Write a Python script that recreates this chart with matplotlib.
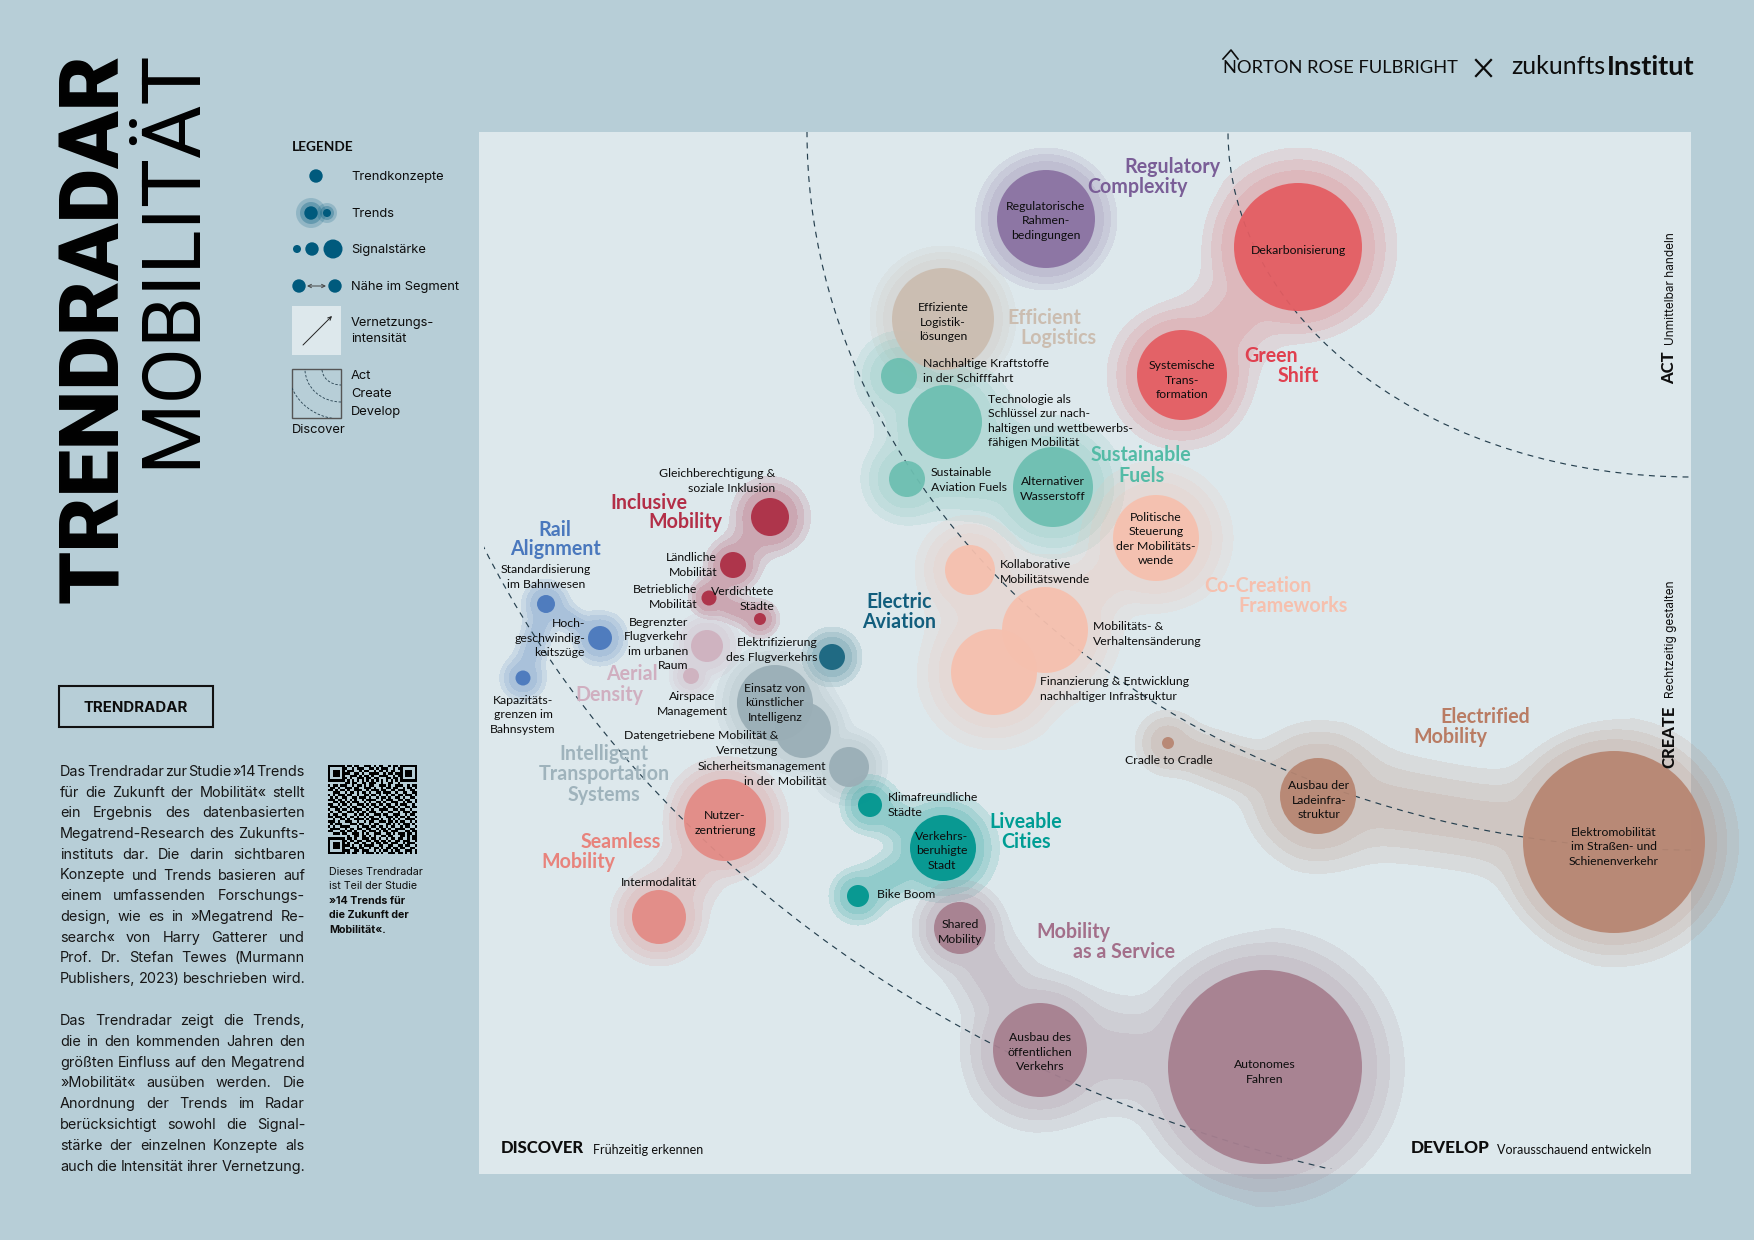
import numpy as np
import matplotlib
matplotlib.use("Agg")
import matplotlib.pyplot as plt
from matplotlib.patches import Circle, Ellipse, Rectangle, FancyArrowPatch

BG = "#b7ced7"
PANEL = "#dde8ec"
DARK = "#0d0d0d"
LEGEND_BLUE = "#005a7d"
LABEL_FONT = "Lato"
BODY_FONT = "Inter"

# trend colours
trend_names = ["Regulatory", "Green", "Efficient", "Fuels", "CoCreation", "Inclusive", "Rail",
               "Aerial", "Aviation", "Intelligent", "Seamless", "Liveable", "MaaS", "Electrified"]
trend_colors = ["#8a72a2", "#e45d62", "#cbbdb0", "#6dbfb1", "#f6c0ae", "#ad2e45", "#4a78bd",
                "#cfb1bf", "#19657f", "#9aaeb6", "#e38b85", "#00968f", "#a67f8f", "#b78672"]

concept_names = ["Regulatorische", "Dekarbonisierung", "Systemische", "Effiziente", "Kraftstoffe",
                 "Technologie", "Aviation Fuels", "Wasserstoff", "Politische", "Kollaborative",
                 "Verhalten", "Finanzierung", "Gleichberechtigung", "Laendliche", "Betriebliche",
                 "Verdichtete", "Standardisierung", "Hochgeschw", "Kapazitaet", "Begrenzter", "Airspace",
                 "Elektrifizierung", "Einsatz KI", "Datengetrieben", "Sicherheit", "Nutzer", "Intermodal",
                 "Klima", "Verkehrsberuhigt", "Bike Boom", "Shared", "Ausbau OEV", "Autonomes",
                 "Cradle", "Ladeinfra", "Elektromobilitaet"]
concept_trend = [0, 1, 1, 2, 3, 3, 3, 3, 4, 4, 4, 4, 5, 5, 5, 5, 6, 6, 6, 7, 7, 8, 9, 9, 9, 10, 10,
                 11, 11, 11, 12, 12, 12, 13, 13, 13]
concept_x = [1046, 1298, 1182, 943, 899, 945, 907, 1053, 1156, 970, 1045, 994, 770, 733, 709, 760,
             546, 600, 523, 707, 691, 832, 775, 803, 849, 725, 659, 870, 943, 858, 960, 1040, 1265,
             1168, 1318, 1614]
concept_y = [219, 247, 375, 319, 376, 422, 479, 487, 538, 570, 630, 672, 517, 565, 598, 619, 604,
             638, 678, 646, 676, 657, 703, 730, 767, 820, 917, 805, 848, 896, 928, 1050, 1067, 743,
             796, 842]
concept_r = [49, 64, 45, 51, 18, 37, 18, 40, 43, 25, 43, 43, 19, 13, 7.5, 6, 9, 12, 7.5, 16, 8, 13,
             38, 28, 20, 41, 27, 12, 33, 11, 26, 47, 97, 6, 38, 91]
concept_halo = [22, 31, 27, 22, 25, 24, 25, 26, 31, 26, 27, 29, 20, 14, 12, 13, 14, 15, 15, 17, 13,
                17, 19, 17, 17, 20, 20, 17, 19, 17, 20, 29, 37, 26, 34, 29]

# how strongly two concepts are connected (half width of the bridge between them)
link_from = ["Dekarbonisierung", "Kraftstoffe", "Technologie", "Technologie", "Aviation Fuels", "Kollaborative",
             "Verhalten", "Verhalten", "Finanzierung", "Gleichberechtigung", "Laendliche", "Betriebliche",
             "Standardisierung", "Standardisierung", "Begrenzter", "Einsatz KI", "Datengetrieben", "Nutzer",
             "Klima", "Verkehrsberuhigt", "Shared", "Ausbau OEV", "Cradle", "Ladeinfra"]
link_to = ["Systemische", "Technologie", "Aviation Fuels", "Wasserstoff", "Wasserstoff", "Verhalten",
           "Finanzierung", "Politische", "Kollaborative", "Laendliche", "Betriebliche", "Verdichtete",
           "Hochgeschw", "Kapazitaet", "Airspace", "Datengetrieben", "Sicherheit", "Intermodal",
           "Verkehrsberuhigt", "Bike Boom", "Ausbau OEV", "Autonomes", "Ladeinfra", "Elektromobilitaet"]
link_reach = [50, 44, 44, 50, 38, 40, 50, 40, 50, 24, 20, 16, 14, 16, 16, 40, 28, 36, 24, 26, 42, 58, 30, 52]

para_one = ["Das Trendradar zur Studie »14 Trends", "für die Zukunft der Mobilität« stellt",
            "ein Ergebnis des datenbasierten", "Megatrend-Research des Zukunfts-",
            "instituts dar. Die darin sichtbaren", "Konzepte und Trends basieren auf",
            "einem umfassenden Forschungs-", "design, wie es in »Megatrend Re-",
            "search« von Harry Gatterer und", "Prof. Dr. Stefan Tewes (Murmann",
            "Publishers, 2023) beschrieben wird."]
para_two = ["Das Trendradar zeigt die Trends,", "die in den kommenden Jahren den",
            "größten Einfluss auf den Megatrend", "»Mobilität« ausüben werden. Die",
            "Anordnung der Trends im Radar", "berücksichtigt sowohl die Signal-",
            "stärke der einzelnen Konzepte als", "auch die Intensität ihrer Vernetzung."]

qr_rows = [
    "1111111 01101100111010110010110 1111111",
    "1000001 10010111001101011100101 1000001",
    "1011101 01110010110010110101100 1011101",
    "1011101 11001101001111001011011 1011101",
    "1011101 00111010110100111100101 1011101",
    "1000001 10100111011011000110110 1000001",
    "1111111 01010101010101010101010 1111111",
    "0000000 11011001101110010011001 0000000",
    "1011011100 1011010110 0111010011 1001011",
    "0110100111 0110011101 0010110110 0101101",
    "1101011010 0111001011 1011001101 1100110",
    "0011100101 1010110100 1101110010 0110011",
    "1010111011 0010011011 0100101101 1011101",
    "0101001100 1101110100 1011010011 0100110",
    "1110110101 0100101111 0010111001 1011001",
    "0011011010 1110010100 1101001110 0101101",
    "1100101101 0011101011 0110110010 1110010",
    "0111010010 1100110101 1001011101 0011011",
    "1001101101 0111001010 0111100110 1100100",
    "0100110011 1010110111 0010011001 0111011",
    "1011001100 0101101001 1101100111 0010110",
    "1101110101 1010010110 0100111010 1101001",
    "0010011010 0111101011 1010010101 0011110",
    "1110100111 0010010110 0111011010 1100101",
    "0101110001 1101100101 1000110101 0111010",
    "1010011110 0010111011 0110101100 1011001",
    "0111100101 1011001100 1011010011 1100110",
    "1100011011 0100110111 0101101110 0011011",
    "0011101100 1110101001 1100110101 1101101",
    "0000000010 0110110101 0011011000 1101011",
    "1111111 0110100111 0110100101 1011001011",
    "1000001 1011011001 1011011010 0110111001",
    "1011101 0100110110 0101101101 1100101110",
    "1011101 1101001011 1100110011 0011011001",
    "1011101 0011101100 1011010110 1101100110",
    "1000001 1100110111 0010101101 0110011101",
    "1111111 0101100101 1101010011 1011010101",
]

W, H = 1754, 1240
fig = plt.figure(figsize=(W / 100, H / 100), dpi=100, facecolor=BG)
ax = fig.add_axes([0, 0, 1, 1])
ax.set_axis_off()
ax.set_xlim(0, W)
ax.set_ylim(H, 0)
ax.autoscale(False)


# text in reference pixels, most of the radar labels go through this
def lab(x, y, s, ha="center", size=8.8, color=DARK, font=LABEL_FONT, weight="normal", **kw):
    kw.setdefault("linespacing", 1.4)
    return ax.text(x, y + 1, s, ha=ha, va="center", fontsize=size, color=color, family=font,
                   weight=weight, multialignment=ha, zorder=8, **kw)


def head(x, y, s, trend):
    lab(x, y + 1, s, size=14.1, color=heading_colors[trend_names.index(trend)], weight="bold")


# stretches the gaps between words so the line fills x0..x1
def justified(x0, x1, y, line, size=10.4):
    words = line.split(" ")
    items = [lab(0, y, w, ha="left", size=size, font=BODY_FONT, color="#161616") for w in words]
    rend = fig.canvas.get_renderer()
    widths = [t.get_window_extent(rend).width for t in items]
    gap = (x1 - x0 - sum(widths)) / max(len(words) - 1, 1)
    x = x0
    for t, w in zip(items, widths):
        t.set_x(x)
        x += w + gap


# smooth union of all circles and bridges of a trend, 1 is the outer edge of the halo
def halo_field(X, Y, idx, k=0.2):
    parts = []
    for i in idx:
        dist = np.hypot(X - concept_x[i], Y - concept_y[i]) - concept_r[i]
        parts.append(dist / concept_halo[i])
    for a, b, reach in zip(link_from, link_to, link_reach):
        ia, ib = concept_names.index(a), concept_names.index(b)
        if ia not in idx or ib not in idx:
            continue
        ax_, ay_, bx_, by_ = concept_x[ia], concept_y[ia], concept_x[ib], concept_y[ib]
        dx, dy = bx_ - ax_, by_ - ay_
        t = np.clip(((X - ax_) * dx + (Y - ay_) * dy) / (dx * dx + dy * dy), 0, 1)
        # neck is narrow in the middle and opens up to the size of the bubble at each end
        s = (2 * t - 1) ** 2
        end_a = concept_r[ia] + 0.7 * concept_halo[ia]
        end_b = concept_r[ib] + 0.7 * concept_halo[ib]
        width = reach * (1 - s) + s * np.where(t < 0.5, end_a, end_b)
        parts.append(np.hypot(X - ax_ - t * dx, Y - ay_ - t * dy) / width)
    parts = np.array(parts)
    return -k * np.log(np.exp(-np.clip(parts, -3, 8) / k).sum(axis=0))


heading_colors = ["#7a5e97", "#e0404f", "#cbbdb0", "#54bba6", "#f6c0ae", "#b32e47", "#4a78bd",
                  "#d0afc0", "#125e7d", "#9fb3bc", "#e8837c", "#009d94", "#a36f8a", "#b97c64"]

# radar panel and bubbles
ax.add_patch(Rectangle((479, 132), 1212, 1042, fc=PANEL, ec="none", zorder=1))

gx, gy = np.meshgrid(np.arange(470, W, 2.0), np.arange(120, H, 2.0))
for t, color in enumerate(trend_colors):
    members = [i for i, c in enumerate(concept_trend) if c == t]
    field = halo_field(gx, gy, members)
    for level in [1.0, 0.7, 0.38]:
        ax.contourf(gx, gy, field, levels=[-100, level], colors=[color], alpha=0.13, zorder=2)

panel_clip = Rectangle((484, 132), 1207, 1037, transform=ax.transData)
for a_, b_ in [(463, 345), (884, 718), (1308, 1079)]:
    arc = Ellipse((1691, 132), 2 * a_, 2 * b_, fill=False, ec="#26404f", lw=0.85,
                  ls=(0, (5, 4.5)), zorder=3)
    ax.add_patch(arc)
    arc.set_clip_path(panel_clip)

for i, name in enumerate(concept_names):
    ax.add_patch(Circle((concept_x[i], concept_y[i]), concept_r[i], fc=trend_colors[concept_trend[i]],
                        ec="none", alpha=0.94, zorder=4))

# trend headings
head(1172, 165, "Regulatory", "Regulatory")
head(1137, 185, "Complexity", "Regulatory")
head(1044, 316, "Efficient", "Efficient")
head(1058, 336, "Logistics", "Efficient")
head(1271, 354, "Green", "Green")
head(1298, 374, "Shift", "Green")
head(1141, 453, "Sustainable", "Fuels")
head(1141, 474, "Fuels", "Fuels")
head(1258, 584, "Co-Creation", "CoCreation")
head(1293, 604, "Frameworks", "CoCreation")
head(899, 600, "Electric", "Aviation")
head(899, 620, "Aviation", "Aviation")
head(649, 501, "Inclusive", "Inclusive")
head(685, 520, "Mobility", "Inclusive")
head(555, 528, "Rail", "Rail")
head(555, 547, "Alignment", "Rail")
head(632, 672, "Aerial", "Aerial")
head(609, 693, "Density", "Aerial")
head(604, 752, "Intelligent", "Intelligent")
head(604, 772, "Transportation", "Intelligent")
head(604, 793, "Systems", "Intelligent")
head(621, 840, "Seamless", "Seamless")
head(578, 860, "Mobility", "Seamless")
head(1026, 820, "Liveable", "Liveable")
head(1026, 840, "Cities", "Liveable")
head(1073, 930, "Mobility", "MaaS")
head(1124, 950, "as a Service", "MaaS")
head(1485, 715, "Electrified", "Electrified")
head(1450, 735, "Mobility", "Electrified")

# concept labels
lab(1046, 220, "Regulatorische\nRahmen-\nbedingungen")
lab(1298, 250, "Dekarbonisierung")
lab(1182, 379, "Systemische\nTrans-\nformation")
lab(943, 321, "Effiziente\nLogistik-\nlösungen")
lab(923, 370, "Nachhaltige Kraftstoffe\nin der Schifffahrt", ha="left")
lab(988, 420, "Technologie als\nSchlüssel zur nach-\nhaltigen und wettbewerbs-\nfähigen Mobilität", ha="left")
lab(931, 479, "Sustainable\nAviation Fuels", ha="left")
lab(1053, 488, "Alternativer\nWasserstoff")
lab(1156, 538, "Politische\nSteuerung\nder Mobilitäts-\nwende")
lab(1000, 571, "Kollaborative\nMobilitätswende", ha="left")
lab(1093, 633, "Mobilitäts- &\nVerhaltensänderung", ha="left")
lab(1040, 688, "Finanzierung & Entwicklung\nnachhaltiger Infrastruktur", ha="left")
lab(1125, 760, "Cradle to Cradle", ha="left")
lab(1319, 799, "Ausbau der\nLadeinfra-\nstruktur")
lab(1614, 846, "Elektromobilität\nim Straßen- und\nSchienenverkehr")
lab(1265, 1071, "Autonomes\nFahren")
lab(1040, 1051, "Ausbau des\nöffentlichen\nVerkehrs")
lab(960, 931, "Shared\nMobility")
lab(877, 894, "Bike Boom", ha="left")
lab(942, 850, "Verkehrs-\nberuhigte\nStadt")
lab(888, 804, "Klimafreundliche\nStädte", ha="left")
lab(725, 822, "Nutzer-\nzentrierung")
lab(659, 881, "Intermodalität")
lab(826, 773, "Sicherheitsmanagement\nin der Mobilität", ha="right")
lab(778, 742, "Datengetriebene Mobilität &\nVernetzung", ha="right")
lab(775, 702, "Einsatz von\nkünstlicher\nIntelligenz")
lab(818, 649, "Elektrifizierung\ndes Flugverkehrs", ha="right")
lab(692, 703, "Airspace\nManagement")
lab(688, 643, "Begrenzter\nFlugverkehr\nim urbanen\nRaum", ha="right")
lab(775, 480, "Gleichberechtigung &\nsoziale Inklusion", ha="right")
lab(717, 564, "Ländliche\nMobilität", ha="right")
lab(697, 596, "Betriebliche\nMobilität", ha="right")
lab(774, 598, "Verdichtete\nStädte", ha="right")
lab(546, 576, "Standardisierung\nim Bahnwesen")
lab(585, 637, "Hoch-\ngeschwindig-\nkeitszüge", ha="right")
lab(523, 714, "Kapazitäts-\ngrenzen im\nBahnsystem")

# panel corners
lab(501, 1147, "DISCOVER", ha="left", size=12, weight="black")
lab(593, 1149, "Frühzeitig erkennen", ha="left", size=9)
lab(1411, 1147, "DEVELOP", ha="left", size=12.4, weight="black")
lab(1497, 1149, "Vorausschauend entwickeln", ha="left", size=9)
ax.text(1669, 384, "ACT", rotation=90, ha="center", va="bottom", fontsize=12, family=LABEL_FONT,
        weight="black", color=DARK, zorder=8)
ax.text(1671, 345, "Unmittelbar handeln", rotation=90, ha="center", va="bottom", fontsize=8.5,
        family=BODY_FONT, color=DARK, zorder=8)
ax.text(1669, 768, "CREATE", rotation=90, ha="center", va="bottom", fontsize=12, family=LABEL_FONT,
        weight="black", color=DARK, zorder=8)
ax.text(1671, 698, "Rechtzeitig gestalten", rotation=90, ha="center", va="bottom", fontsize=8.5,
        family=BODY_FONT, color=DARK, zorder=8)

# big title, rotated
ax.text(96, 603, "TRENDRADAR", rotation=90, ha="center", va="bottom", fontsize=60.8, family="Roboto",
        weight="black", color="black", zorder=8)
ax.text(172, 468, "MOBILITÄT", rotation=90, ha="center", va="bottom", fontsize=59, family="Roboto",
        weight="normal", color="black", zorder=8)

# logos
ax.plot([1223, 1231, 1238], [59, 50, 59], color=DARK, lw=1.2, zorder=8)
lab(1223, 67, "NORTON ROSE FULBRIGHT", ha="left", size=13.2, font=LABEL_FONT)
ax.plot([1476, 1491], [60, 76], color=DARK, lw=1.6, zorder=8)
ax.plot([1476, 1491], [76, 60], color=DARK, lw=1.6, zorder=8)
lab(1511, 66, "zukunfts", ha="left", size=18, font=LABEL_FONT)
lab(1607, 66, "Institut", ha="left", size=19.5, font=LABEL_FONT, weight="bold")

# legend
lab(292, 146, "LEGENDE", ha="left", size=9.8, font=LABEL_FONT, weight="bold")
ax.add_patch(Circle((316, 176), 6.7, fc=LEGEND_BLUE, ec="none", zorder=5))
lab(351, 176, "Trendkonzepte", ha="left", size=9.3, font=BODY_FONT)
for r_, a_ in [(15, 0.2), (11, 0.3)]:
    ax.add_patch(Circle((311, 213), r_, fc=LEGEND_BLUE, ec="none", alpha=a_, zorder=4))
for r_, a_ in [(10, 0.2), (7, 0.3)]:
    ax.add_patch(Circle((327, 213), r_, fc=LEGEND_BLUE, ec="none", alpha=a_, zorder=4))
ax.add_patch(Circle((311, 213), 6.7, fc=LEGEND_BLUE, ec="none", zorder=5))
ax.add_patch(Circle((327, 213), 4, fc=LEGEND_BLUE, ec="none", zorder=5))
lab(351, 213, "Trends", ha="left", size=9.3, font=BODY_FONT)
for cx, r_ in [(297, 4), (312, 6.7), (333, 9.5)]:
    ax.add_patch(Circle((cx, 249), r_, fc=LEGEND_BLUE, ec="none", zorder=5))
lab(351, 249, "Signalstärke", ha="left", size=9.3, font=BODY_FONT)
for cx in [299, 335]:
    ax.add_patch(Circle((cx, 286), 6.7, fc=LEGEND_BLUE, ec="none", zorder=5))
ax.add_patch(FancyArrowPatch((307, 286), (326, 286), arrowstyle="<->", mutation_scale=6, lw=0.7,
                             color="#444444", zorder=5, shrinkA=0, shrinkB=0))
lab(351, 286, "Nähe im Segment", ha="left", size=9.3, font=BODY_FONT)
ax.add_patch(Rectangle((292, 306), 49, 49, fc=PANEL, ec="none", zorder=4))
ax.add_patch(FancyArrowPatch((303, 345), (332, 316), arrowstyle="->", mutation_scale=6, lw=0.7,
                             color="#222222", zorder=5, shrinkA=0, shrinkB=0))
lab(351, 330, "Vernetzungs-\nintensität", ha="left", size=9.3, font=BODY_FONT, linespacing=1.45)
box = Rectangle((292, 369), 49, 49, fc="none", ec="#555555", lw=1.0, zorder=5)
ax.add_patch(box)
box_clip = Rectangle((292, 369), 49, 49, transform=ax.transData)
for a_, b_ in [(19, 16), (36, 33), (53, 50)]:
    arc = Ellipse((341, 369), 2 * a_, 2 * b_, fill=False, ec="#26404f", lw=0.6, ls=(0, (3, 2)), zorder=5)
    ax.add_patch(arc)
    arc.set_clip_path(box_clip)
lab(351, 375, "Act", ha="left", size=9.3, font=BODY_FONT)
lab(351, 393, "Create", ha="left", size=9.3, font=BODY_FONT)
lab(351, 411, "Develop", ha="left", size=9.3, font=BODY_FONT)
lab(292, 429, "Discover", ha="left", size=9.3, font=BODY_FONT)

# left column
ax.add_patch(Rectangle((59, 686), 154, 41, fc="none", ec="#111111", lw=1.5, zorder=5))
lab(136, 707, "TRENDRADAR", size=10.8, font=BODY_FONT, weight="bold")
fig.canvas.draw()
for n, line in enumerate(para_one):
    justified(60, 305, 771 + 20.7 * n, line)
for n, line in enumerate(para_two):
    justified(60, 305, 1020 + 20.8 * n, line)

qr = np.array([[int(ch) for ch in row.replace(" ", "")] for row in qr_rows])
ax.imshow(1 - qr, cmap="gray", extent=(328, 417, 854, 765), aspect="auto", interpolation="nearest",
          zorder=6, alpha=qr.astype(float))
ax.set_xlim(0, W)
ax.set_ylim(H, 0)

lab(329, 871, "Dieses Trendradar", ha="left", size=7.7, font=BODY_FONT)
lab(329, 885, "ist Teil der Studie", ha="left", size=7.7, font=BODY_FONT)
lab(329, 900, "»14 Trends für", ha="left", size=7.7, font=BODY_FONT, weight="bold")
lab(329, 914, "die Zukunft der", ha="left", size=7.7, font=BODY_FONT, weight="bold")
lab(329, 929, "Mobilität«.", ha="left", size=7.7, font=BODY_FONT, weight="bold")

fig.savefig("out.png", dpi=100, facecolor=BG)
